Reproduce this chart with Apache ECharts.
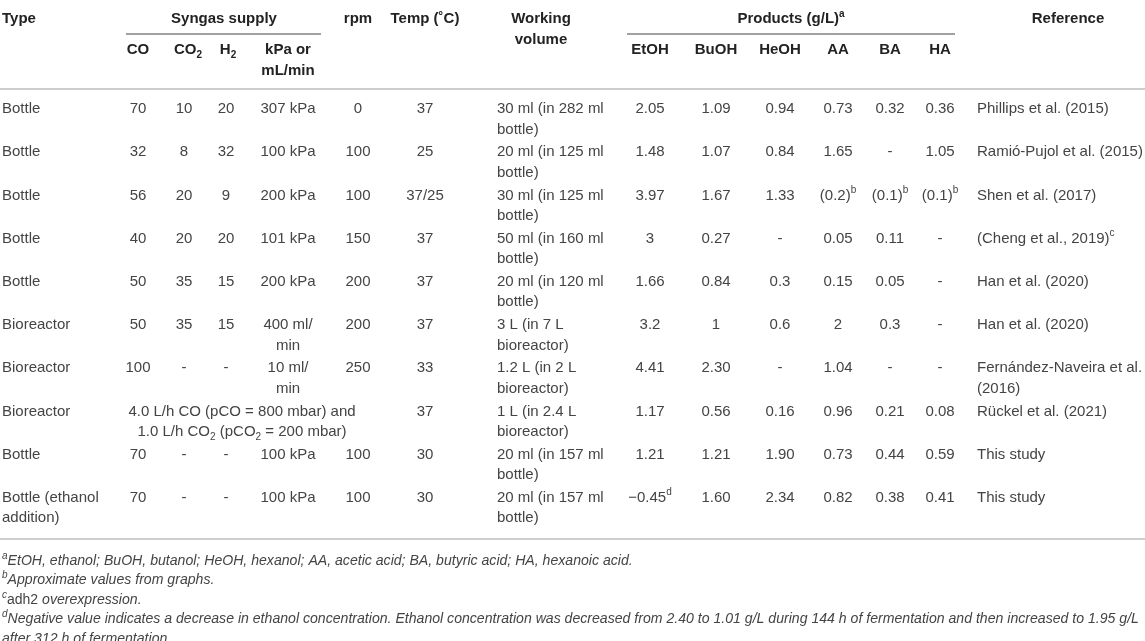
<!DOCTYPE html>
<html>
<head>
<meta charset="utf-8">
<title>Syngas fermentation products</title>
<script src="https://cdn.jsdelivr.net/npm/echarts@6/dist/echarts.min.js"></script>
<style>
  html, body { margin: 0; padding: 0; background: #fff; }
  #main { width: 1145px; height: 641px; }
</style>
</head>
<body>
<div id="main"></div>
<script>
// table rows
var types = ['Bottle', 'Bottle', 'Bottle', 'Bottle', 'Bottle', 'Bioreactor', 'Bioreactor', 'Bioreactor', 'Bottle', 'Bottle (ethanol\naddition)'];
var coPct = ['70', '32', '56', '40', '50', '50', '100', null, '70', '70'];
var co2Pct = ['10', '8', '20', '20', '35', '35', '-', null, '-', '-'];
var h2Pct = ['20', '32', '9', '20', '15', '15', '-', null, '-', '-'];
var supply = ['307 kPa', '100 kPa', '200 kPa', '101 kPa', '200 kPa', '400 ml/\nmin', '10 ml/\nmin', null, '100 kPa', '100 kPa'];
var gasFlow = [null, null, null, null, null, null, null,
  '4.0 L/h CO (pCO = 800 mbar) and\n1.0 L/h CO{sub|2} (pCO{sub|2} = 200 mbar)', null, null];
var rpm = ['0', '100', '100', '150', '200', '200', '250', null, '100', '100'];
var temp = ['37', '25', '37/25', '37', '37', '37', '33', '37', '30', '30'];
var volume = ['30 ml (in 282 ml\nbottle)', '20 ml (in 125 ml\nbottle)', '30 ml (in 125 ml\nbottle)', '50 ml (in 160 ml\nbottle)',
  '20 ml (in 120 ml\nbottle)', '3 L (in 7 L\nbioreactor)', '1.2 L (in 2 L\nbioreactor)', '1 L (in 2.4 L\nbioreactor)',
  '20 ml (in 157 ml\nbottle)', '20 ml (in 157 ml\nbottle)'];
var etoh = ['2.05', '1.48', '3.97', '3', '1.66', '3.2', '4.41', '1.17', '1.21', '\u22120.45'];
var buoh = ['1.09', '1.07', '1.67', '0.27', '0.84', '1', '2.30', '0.56', '1.21', '1.60'];
var heoh = ['0.94', '0.84', '1.33', '-', '0.3', '0.6', '-', '0.16', '1.90', '2.34'];
var aa = ['0.73', '1.65', '(0.2)', '0.05', '0.15', '2', '1.04', '0.96', '0.73', '0.82'];
var ba = ['0.32', '-', '(0.1)', '0.11', '0.05', '0.3', '-', '0.21', '0.44', '0.38'];
var ha = ['0.36', '1.05', '(0.1)', '-', '-', '-', '-', '0.08', '0.59', '0.41'];
var refs = ['Phillips et al. (2015)', 'Ramió-Pujol et al. (2015)', 'Shen et al. (2017)', '(Cheng et al., 2019)',
  'Han et al. (2020)', 'Han et al. (2020)', 'Fernández-Naveira et al.\n(2016)', 'Rückel et al. (2021)',
  'This study', 'This study'];

// footnote marks attached to cells
var cellMarks = [
  { row: 2, col: 'aa', mark: 'b' },
  { row: 2, col: 'ba', mark: 'b' },
  { row: 2, col: 'ha', mark: 'b' },
  { row: 3, col: 'ref', mark: 'c' },
  { row: 9, col: 'etoh', mark: 'd' }
];

var headTop = ['Type', 'Syngas supply', 'rpm', 'Temp (˚C)', 'Working\nvolume', 'Products (g/L){sup|a}', 'Reference'];
var headSub = ['CO', 'CO{sub|2}', 'H{sub|2}', 'kPa or\nmL/min', 'EtOH', 'BuOH', 'HeOH', 'AA', 'BA', 'HA'];

var footnotes = [
  '{sup|a}EtOH, ethanol; BuOH, butanol; HeOH, hexanol; AA, acetic acid; BA, butyric acid; HA, hexanoic acid.',
  '{sup|b}Approximate values from graphs.',
  '{sup|c}{up|adh2} overexpression.',
  '{sup|d}Negative value indicates a decrease in ethanol concentration. Ethanol concentration was decreased from 2.40 to 1.01 g/L during 144 h of fermentation and then increased to 1.95 g/L',
  'after 312 h of fermentation.'
];

var FONT = '"Liberation Sans", Arial, sans-serif';
var TXT = '#444';
var HEAD = '#222';
var LH = 20.5;

function richSet(size, weight, style, color) {
  return {
    sup: { fontFamily: FONT, fontSize: 10, fontWeight: weight, fontStyle: style, fill: color, lineHeight: 10, verticalAlign: 'top' },
    sub: { fontFamily: FONT, fontSize: 10, fontWeight: weight, fontStyle: style, fill: color, lineHeight: 13, verticalAlign: 'bottom' },
    up: { fontFamily: FONT, fontSize: size, fontWeight: weight, fontStyle: 'normal', fill: color }
  };
}

// column layout
var cols = [
  { key: 'type', data: types, x: 2, align: 'left' },
  { key: 'gas', data: gasFlow, x: 242 },
  { key: 'co', data: coPct, x: 138 },
  { key: 'co2', data: co2Pct, x: 184 },
  { key: 'h2', data: h2Pct, x: 226 },
  { key: 'supply', data: supply, x: 288 },
  { key: 'rpm', data: rpm, x: 358 },
  { key: 'temp', data: temp, x: 425 },
  { key: 'volume', data: volume, x: 497, align: 'left' },
  { key: 'etoh', data: etoh, x: 650 },
  { key: 'buoh', data: buoh, x: 716 },
  { key: 'heoh', data: heoh, x: 780 },
  { key: 'aa', data: aa, x: 838 },
  { key: 'ba', data: ba, x: 890 },
  { key: 'ha', data: ha, x: 940 },
  { key: 'ref', data: refs, x: 977, align: 'left' }
];
var headTopX = [2, 224, 358, 425, 541, 791, 1068];
var headSubX = [138, 188, 228, 288, 650, 716, 780, 838, 890, 940];

function cellText(col, row) {
  var t = col.data[row];
  if (t == null) return null;
  cellMarks.forEach(function (m) {
    if (m.row === row && m.col === col.key) t += '{sup|' + m.mark + '}';
  });
  return t;
}

var bodyRich = richSet(15, 'normal', 'normal', TXT);
var headRich = richSet(15, 'bold', 'normal', HEAD);
var footRich = richSet(14, 'normal', 'italic', TXT);

var myChart = echarts.init(document.getElementById('main'));

var graphics = [];
headTop.forEach(function (t, i) {
  graphics.push({
    type: 'text', x: headTopX[i], y: 19 - LH / 2,
    style: { text: t, rich: headRich, fontFamily: FONT, fontSize: 15, fontWeight: 'bold', fill: HEAD,
      align: i === 0 ? 'left' : 'center', verticalAlign: 'top', lineHeight: LH }
  });
});
headSub.forEach(function (t, i) {
  graphics.push({
    type: 'text', x: headSubX[i], y: 50 - LH / 2,
    style: { text: t, rich: headRich, fontFamily: FONT, fontSize: 15, fontWeight: 'bold', fill: HEAD,
      align: 'center', verticalAlign: 'top', lineHeight: LH }
  });
});
footnotes.forEach(function (t, i) {
  graphics.push({
    type: 'text', x: 2, y: 561 + i * 19.5 - 10,
    style: { text: t, rich: footRich, fontFamily: FONT, fontSize: 14.1, fontStyle: 'italic', fill: TXT,
      align: 'left', verticalAlign: 'top', lineHeight: 20 }
  });
});
// rules
graphics.push(
  { type: 'line', shape: { x1: 126, y1: 34, x2: 321, y2: 34 }, style: { stroke: '#444', lineWidth: 1 } },
  { type: 'line', shape: { x1: 627, y1: 34, x2: 955, y2: 34 }, style: { stroke: '#444', lineWidth: 1 } },
  { type: 'line', shape: { x1: 0, y1: 89, x2: 1145, y2: 89 }, style: { stroke: '#bdbdbd', lineWidth: 1.5 } },
  { type: 'line', shape: { x1: 0, y1: 539, x2: 1145, y2: 539 }, style: { stroke: '#bdbdbd', lineWidth: 1.5 } }
);

option = {
  animation: false,
  grid: { left: 0, right: 0, top: 96.75, height: 432 },
  xAxis: { type: 'value', min: 0, max: 1145, show: false },
  yAxis: { type: 'category', inverse: true, show: false, data: types.map(function (t, i) { return 'row' + i; }) },
  graphic: graphics,
  series: [{
    type: 'custom',
    data: types.map(function (t, i) { return [0, i]; }),
    renderItem: function (params, api) {
      var row = api.value(1);
      var band = api.size([0, 1])[1];
      var top = api.coord([0, row])[1] - band / 2 + 2;
      var children = [];
      cols.forEach(function (c) {
        var txt = cellText(c, row);
        if (txt == null) return;
        children.push({
          type: 'text',
          x: api.coord([c.x, row])[0],
          y: top,
          style: { text: txt, rich: bodyRich, fontFamily: FONT, fontSize: 15, fill: TXT,
            align: c.align || 'center', verticalAlign: 'top', lineHeight: LH }
        });
      });
      return { type: 'group', children: children };
    }
  }]
};

myChart.setOption(option);
</script>
</body>
</html>
